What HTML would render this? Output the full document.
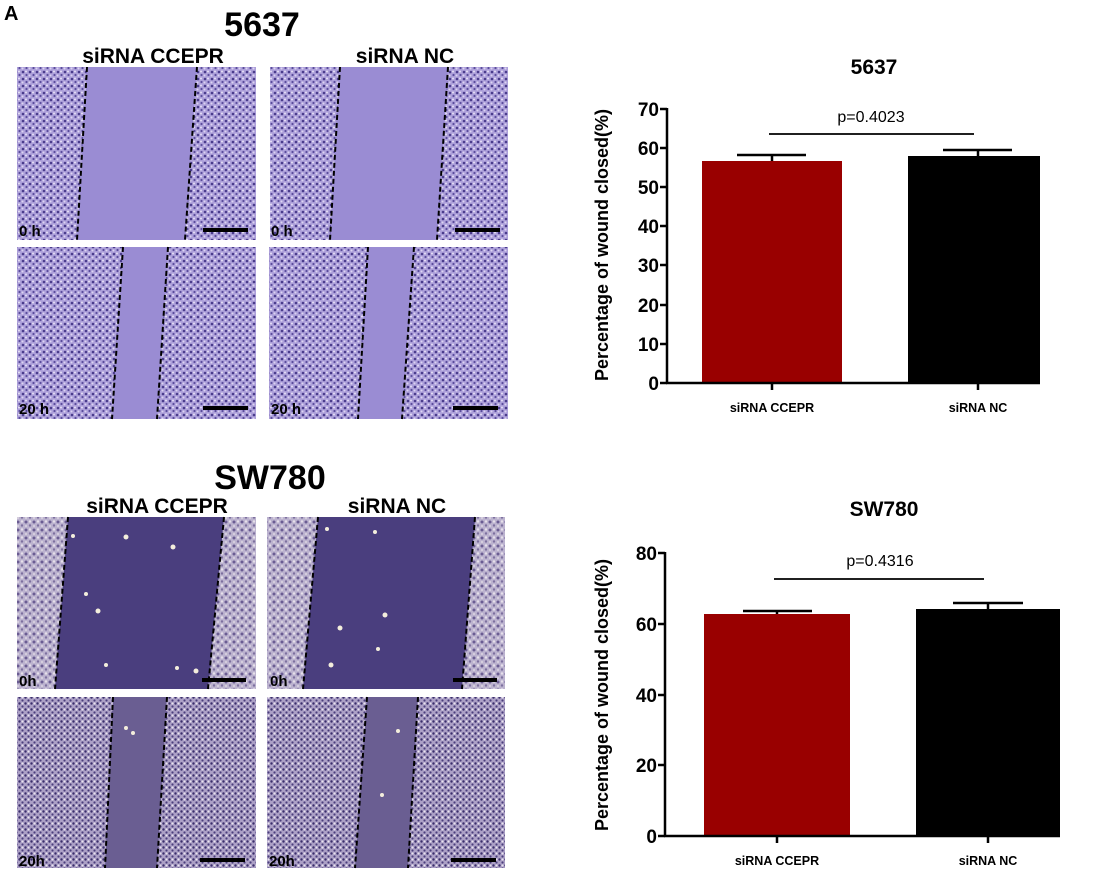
<!DOCTYPE html>
<html><head><meta charset="utf-8"><style>
html,body{margin:0;padding:0;background:#fff;}
svg{display:block;}
text{font-family:"Liberation Sans",Arial,sans-serif;font-weight:bold;}
</style></head><body>
<svg width="1100" height="874" viewBox="0 0 1100 874" xmlns="http://www.w3.org/2000/svg">
<defs>
<pattern id="c1" width="7" height="7" patternUnits="userSpaceOnUse">
<rect width="7" height="7" fill="#ada0da"/>
<circle cx="2" cy="2" r="1.3" fill="#4a3c8c"/>
<circle cx="5.5" cy="5" r="1.1" fill="#5a4c9c"/>
<circle cx="5" cy="1.5" r="1" fill="#e6e0f6"/>
<circle cx="1.5" cy="5.5" r="1" fill="#ddd5f2"/>
</pattern>
<pattern id="c2" width="8" height="8" patternUnits="userSpaceOnUse">
<rect width="8" height="8" fill="#bcb3cf"/>
<circle cx="2" cy="2" r="1.5" fill="#6a5c92"/>
<circle cx="6" cy="5.5" r="1.2" fill="#7d709f"/>
<circle cx="6" cy="1.5" r="1.2" fill="#e6e0ea"/>
<circle cx="2" cy="6" r="1" fill="#dcd6e2"/>
</pattern>
<pattern id="c3" width="6" height="6" patternUnits="userSpaceOnUse">
<rect width="6" height="6" fill="#aca0c6"/>
<circle cx="1.5" cy="1.5" r="1.2" fill="#3a2e6c"/>
<circle cx="4.5" cy="4.5" r="1.1" fill="#4a3e7c"/>
<circle cx="4.5" cy="1.5" r="1" fill="#ece6f0"/>
</pattern>
</defs>

<text x="4" y="20" font-size="20">A</text>
<text x="262" y="36" font-size="34" text-anchor="middle">5637</text>
<text x="153" y="63" font-size="21" text-anchor="middle">siRNA CCEPR</text>
<text x="405" y="63" font-size="21" text-anchor="middle">siRNA NC</text>

<g stroke="#000" stroke-width="2" stroke-dasharray="5,3">
<rect x="17" y="67" width="239" height="173" fill="url(#c1)" stroke="none"/>
<polygon points="87,67 197,67 185,240 77,240" fill="#9a8cd3" stroke="none"/>
<line x1="87" y1="67" x2="77" y2="240"/><line x1="197" y1="67" x2="185" y2="240"/>
<rect x="270" y="67" width="238" height="173" fill="url(#c1)" stroke="none"/>
<polygon points="340,67 448,67 437,240 330,240" fill="#9a8cd3" stroke="none"/>
<line x1="340" y1="67" x2="330" y2="240"/><line x1="448" y1="67" x2="437" y2="240"/>
<rect x="17" y="247" width="239" height="172" fill="url(#c1)" stroke="none"/>
<polygon points="123,247 168,247 157,419 112,419" fill="#9a8cd3" stroke="none"/>
<line x1="123" y1="247" x2="112" y2="419"/><line x1="168" y1="247" x2="157" y2="419"/>
<rect x="269" y="247" width="239" height="172" fill="url(#c1)" stroke="none"/>
<polygon points="368,247 414,247 402,419 358,419" fill="#9a8cd3" stroke="none"/>
<line x1="368" y1="247" x2="358" y2="419"/><line x1="414" y1="247" x2="402" y2="419"/>
</g>
<g fill="#000">
<rect x="203" y="228" width="45" height="4"/><rect x="455" y="228" width="45" height="4"/>
<rect x="203" y="406" width="45" height="4"/><rect x="453" y="406" width="45" height="4"/>
</g>
<g font-size="15"><text x="19" y="236">0 h</text><text x="271" y="236">0 h</text><text x="19" y="414">20 h</text><text x="271" y="414">20 h</text></g>

<text x="270" y="489" font-size="34" text-anchor="middle">SW780</text>
<text x="157" y="513" font-size="21" text-anchor="middle">siRNA CCEPR</text>
<text x="397" y="513" font-size="21" text-anchor="middle">siRNA NC</text>

<g stroke="#000" stroke-width="2" stroke-dasharray="5,3">
<rect x="17" y="517" width="239" height="172" fill="url(#c2)" stroke="none"/>
<polygon points="68,517 224,517 208,689 55,689" fill="#4a3e7e" stroke="none"/>
<line x1="68" y1="517" x2="55" y2="689"/><line x1="224" y1="517" x2="208" y2="689"/>
<rect x="267" y="517" width="238" height="172" fill="url(#c2)" stroke="none"/>
<polygon points="318,517 475,517 462,689 303,689" fill="#4a3e7e" stroke="none"/>
<line x1="318" y1="517" x2="303" y2="689"/><line x1="475" y1="517" x2="462" y2="689"/>
<rect x="17" y="697" width="239" height="171" fill="url(#c3)" stroke="none"/>
<polygon points="113,697 167,697 157,868 105,868" fill="#6a5e92" stroke="none"/>
<line x1="113" y1="697" x2="105" y2="868"/><line x1="167" y1="697" x2="157" y2="868"/>
<rect x="267" y="697" width="238" height="171" fill="url(#c3)" stroke="none"/>
<polygon points="367,697 418,697 408,868 355,868" fill="#6a5e92" stroke="none"/>
<line x1="367" y1="697" x2="355" y2="868"/><line x1="418" y1="697" x2="408" y2="868"/>
</g>
<g fill="#f4eedc">
<circle cx="73" cy="536" r="2"/><circle cx="126" cy="537" r="2.5"/><circle cx="173" cy="547" r="2.5"/><circle cx="86" cy="594" r="2"/><circle cx="98" cy="611" r="2.5"/><circle cx="106" cy="665" r="2"/><circle cx="177" cy="668" r="2"/><circle cx="196" cy="671" r="2.5"/>
<circle cx="327" cy="529" r="2"/><circle cx="375" cy="532" r="2"/><circle cx="385" cy="615" r="2.5"/><circle cx="340" cy="628" r="2.5"/><circle cx="378" cy="649" r="2"/><circle cx="331" cy="665" r="2.5"/>
<circle cx="126" cy="728" r="2"/><circle cx="133" cy="733" r="2"/><circle cx="398" cy="731" r="2"/><circle cx="382" cy="795" r="2"/>
</g>
<g fill="#000">
<rect x="202" y="678" width="44" height="4"/><rect x="453" y="678" width="44" height="4"/>
<rect x="200" y="858" width="45" height="4"/><rect x="451" y="858" width="45" height="4"/>
</g>
<g font-size="15"><text x="19" y="686">0h</text><text x="270" y="686">0h</text><text x="19" y="866">20h</text><text x="269" y="866">20h</text></g>

<!-- Chart 1 -->
<text x="874" y="74" font-size="21" text-anchor="middle">5637</text>
<text transform="translate(608,245) rotate(-90)" font-size="18" text-anchor="middle">Percentage of wound closed(%)</text>
<rect x="702" y="161" width="140" height="222" fill="#990000"/>
<rect x="908" y="156" width="132" height="227" fill="#000"/>
<g stroke="#000" stroke-width="2.5" fill="none">
<line x1="667" y1="108" x2="667" y2="384"/>
<line x1="666" y1="383" x2="1040" y2="383"/>
<line x1="772" y1="155" x2="772" y2="161"/><line x1="737" y1="155" x2="806" y2="155"/>
<line x1="978" y1="150" x2="978" y2="156"/><line x1="943" y1="150" x2="1012" y2="150"/>
<line x1="772" y1="383" x2="772" y2="390"/><line x1="978" y1="383" x2="978" y2="390"/>
<line x1="769" y1="134" x2="974" y2="134" stroke-width="1.8"/>
<line x1="660" y1="109" x2="667" y2="109"/><line x1="660" y1="148" x2="667" y2="148"/><line x1="660" y1="187" x2="667" y2="187"/><line x1="660" y1="226" x2="667" y2="226"/><line x1="660" y1="265" x2="667" y2="265"/><line x1="660" y1="305" x2="667" y2="305"/><line x1="660" y1="344" x2="667" y2="344"/><line x1="660" y1="383" x2="667" y2="383"/>
</g>
<g font-size="19" text-anchor="end">
<text x="659" y="116">70</text><text x="659" y="155">60</text><text x="659" y="194">50</text><text x="659" y="233">40</text><text x="659" y="272">30</text><text x="659" y="312">20</text><text x="659" y="351">10</text><text x="659" y="390">0</text>
</g>
<text x="871" y="122" font-size="16" style="font-weight:normal" text-anchor="middle">p=0.4023</text>
<text x="772" y="412" font-size="12.5" text-anchor="middle">siRNA CCEPR</text>
<text x="978" y="412" font-size="12.5" text-anchor="middle">siRNA NC</text>

<!-- Chart 2 -->
<text x="884" y="516" font-size="21" text-anchor="middle">SW780</text>
<text transform="translate(608,695) rotate(-90)" font-size="18" text-anchor="middle">Percentage of wound closed(%)</text>
<rect x="704" y="614" width="146" height="222" fill="#990000"/>
<rect x="916" y="609" width="144" height="227" fill="#000"/>
<g stroke="#000" stroke-width="2.5" fill="none">
<line x1="665" y1="552" x2="665" y2="837"/>
<line x1="664" y1="836" x2="1060" y2="836"/>
<line x1="777" y1="611" x2="777" y2="614"/><line x1="743" y1="611" x2="812" y2="611"/>
<line x1="988" y1="603" x2="988" y2="609"/><line x1="953" y1="603" x2="1023" y2="603"/>
<line x1="777" y1="836" x2="777" y2="843"/><line x1="988" y1="836" x2="988" y2="843"/>
<line x1="774" y1="579" x2="984" y2="579" stroke-width="1.8"/>
<line x1="658" y1="553" x2="665" y2="553"/><line x1="658" y1="624" x2="665" y2="624"/><line x1="658" y1="695" x2="665" y2="695"/><line x1="658" y1="765" x2="665" y2="765"/><line x1="658" y1="836" x2="665" y2="836"/>
</g>
<g font-size="19" text-anchor="end">
<text x="657" y="560">80</text><text x="657" y="631">60</text><text x="657" y="702">40</text><text x="657" y="772">20</text><text x="657" y="843">0</text>
</g>
<text x="880" y="566" font-size="16" style="font-weight:normal" text-anchor="middle">p=0.4316</text>
<text x="777" y="865" font-size="12.5" text-anchor="middle">siRNA CCEPR</text>
<text x="988" y="865" font-size="12.5" text-anchor="middle">siRNA NC</text>
</svg>
</body></html>
